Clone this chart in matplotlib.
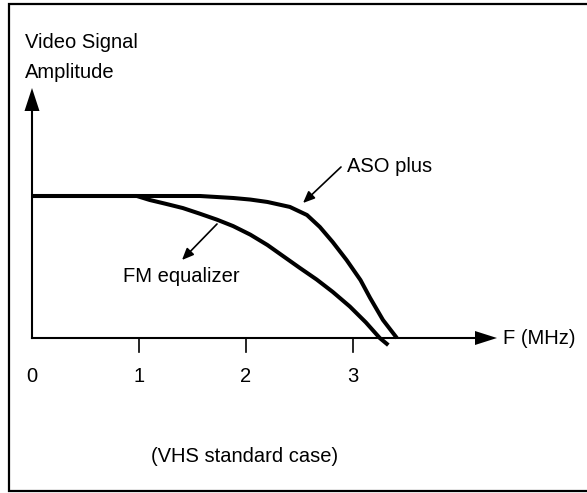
import matplotlib
matplotlib.use("Agg")
import matplotlib.pyplot as plt
from matplotlib.patches import Polygon

plt.rcParams['font.family'] = ['Liberation Sans', 'DejaVu Sans']

# Data (frequency in MHz, normalized amplitude)
aso_f = [0.0, 1.0, 1.57, 1.88, 2.04, 2.20, 2.41, 2.57, 2.69, 2.81, 2.94, 3.07, 3.16, 3.28, 3.41]
aso_a = [1.0, 1.0, 1.0, 0.986, 0.975, 0.958, 0.923, 0.866, 0.782, 0.676, 0.549, 0.408, 0.282, 0.127, 0.0]
fm_f = [0.0, 0.98, 1.10, 1.25, 1.41, 1.57, 1.73, 1.88, 2.04, 2.20, 2.35, 2.50, 2.66, 2.81, 2.97, 3.12, 3.25, 3.33]
fm_a = [1.0, 1.0, 0.972, 0.945, 0.915, 0.875, 0.833, 0.788, 0.728, 0.655, 0.575, 0.495, 0.412, 0.325, 0.222, 0.110, 0.0, -0.05]
tick_vals = [0, 1, 2, 3]
tick_labels = ["0", "1", "2", "3"]

W, H = 587, 493
fig = plt.figure(figsize=(W / 100, H / 100), dpi=100)
ax = fig.add_axes([0, 0, 1, 1])
px_per_x = 107.0
px_per_y = 142.0
x0, y0 = 32.0, 338.0  # pixel location of origin (from top-left)
ax.set_xlim(-x0 / px_per_x, (W - x0) / px_per_x)
ax.set_ylim(-(H - y0) / px_per_y, y0 / px_per_y)
ax.axis('off')

def px(dx):
    return dx / px_per_x

def py(dy):
    return dy / px_per_y

FS = 14.5

# Border (right side cut off)
ax.plot([px(W + 5 - x0), px(9 - x0), px(9 - x0), px(W + 5 - x0)],
        [py(y0 - 3.5), py(y0 - 3.5), py(y0 - 491), py(y0 - 491)],
        color='black', lw=1.6, clip_on=False, solid_joinstyle='miter')

# Axes lines
x_end = px(497 - x0)
y_top = py(y0 - 88)
ax.plot([0, px(475 - x0)], [0, 0], color='black', lw=1.5)
ax.add_patch(Polygon([[px(475 - x0), py(7)], [px(475 - x0), py(-7)], [x_end, 0]],
                     closed=True, color='black', lw=0))
ax.plot([0, 0], [0, py(y0 - 111)], color='black', lw=1.5)
ax.add_patch(Polygon([[px(-7.5), py(y0 - 111)], [px(7.5), py(y0 - 111)], [0, y_top]],
                     closed=True, color='black', lw=0))

# Ticks and tick labels
for v, lab in zip(tick_vals, tick_labels):
    if v != 0:
        ax.plot([v, v], [0, py(-14)], color='black', lw=1.2)
    ax.text(v, py(-(377 - y0)), lab, ha='center', va='center', fontsize=FS)

# Curves
ax.plot(aso_f, aso_a, color='black', lw=2.9, solid_capstyle='butt', solid_joinstyle='round')
ax.plot(fm_f, fm_a, color='black', lw=2.9, solid_capstyle='butt', solid_joinstyle='round')

# Text
ax.text(px(25 - x0), py(y0 - 42), "Video Signal", ha='left', va='center', fontsize=FS)
ax.text(px(25 - x0), py(y0 - 73), "Amplitude", ha='left', va='center', fontsize=FS)
ax.text(px(503 - x0), 0, "F (MHz)", ha='left', va='center', fontsize=FS)
ax.text(px(245 - x0), py(y0 - 457), "(VHS standard case)", ha='center', va='center', fontsize=FS)

# Annotations
ax.annotate("", xy=(px(303 - x0), py(y0 - 203)),
            xytext=(px(341 - x0), py(y0 - 167)),
            arrowprops=dict(arrowstyle='-|>,head_length=0.7,head_width=0.3', color='black',
                            lw=1.2, shrinkA=0, shrinkB=0))
ax.text(px(347 - x0), py(y0 - 167), "ASO plus", ha='left', va='center', fontsize=FS)
ax.annotate("", xy=(px(182 - x0), py(y0 - 260)),
            xytext=(px(217 - x0), py(y0 - 224)),
            arrowprops=dict(arrowstyle='-|>,head_length=0.7,head_width=0.3', color='black',
                            lw=1.2, shrinkA=0, shrinkB=0))
ax.text(px(123 - x0), py(y0 - 276), "FM equalizer", ha='left', va='center', fontsize=FS)

fig.savefig("out.png", dpi=100)
